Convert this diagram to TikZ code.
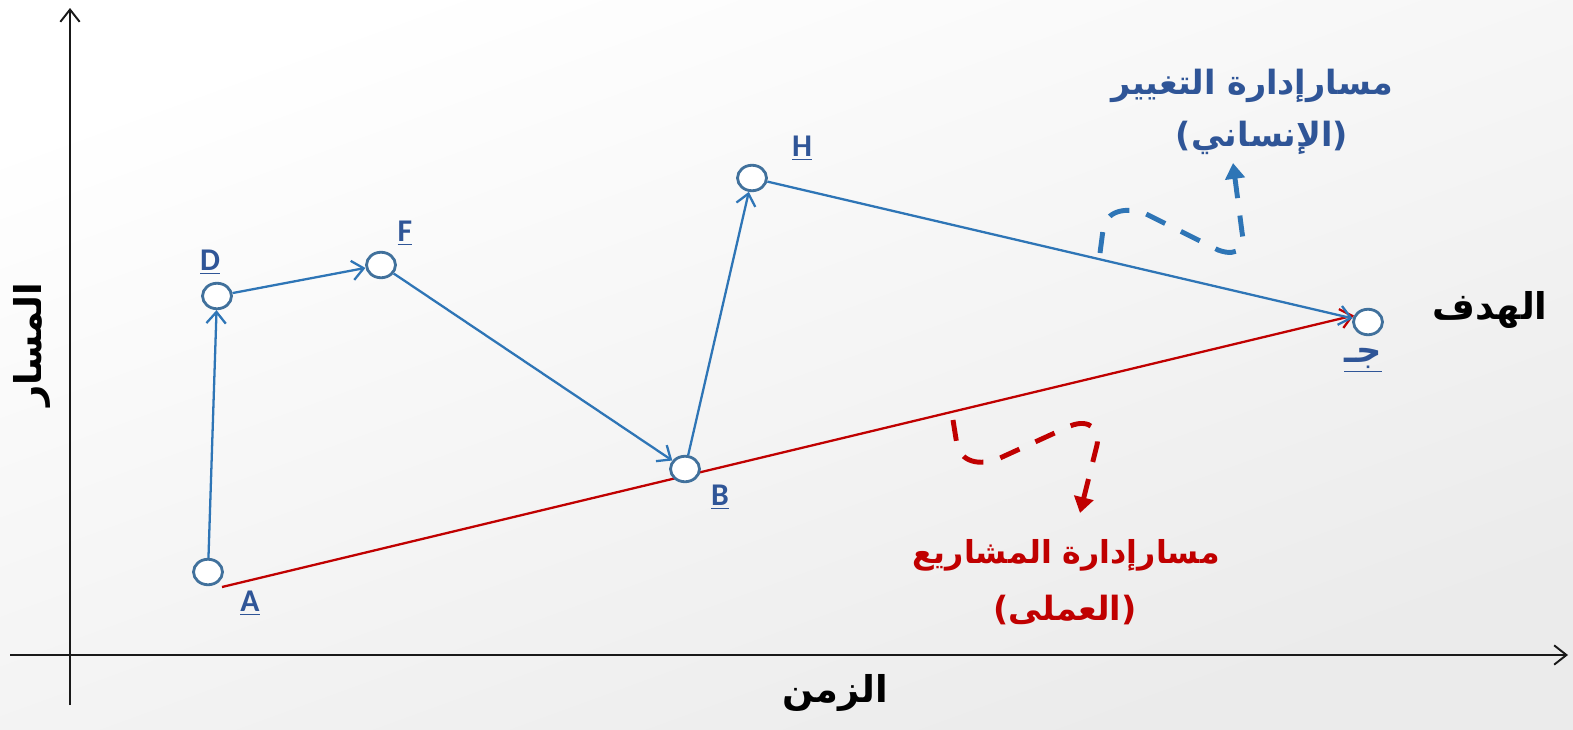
\documentclass[tikz,border=0pt]{standalone}
\usepackage{fontspec}
\setmainfont{Carlito}
\newfontfamily\arabicfont[Script=Arabic]{DejaVu Sans}
\TeXXeTstate=1
\usetikzlibrary{shapes.geometric, arrows.meta, positioning, calc}
\definecolor{pathblue}{RGB}{46, 117, 182}
\definecolor{ringblue}{RGB}{65, 113, 156}
\definecolor{labelblue}{RGB}{47, 85, 151}
\definecolor{pathred}{RGB}{192, 0, 0}
\definecolor{axisblack}{RGB}{25, 25, 25}
\pgfdeclarelayer{canvas}
\pgfdeclarelayer{links}
\pgfsetlayers{canvas,links,main}

\begin{document}
\begin{tikzpicture}[
    x=0.02cm, y=-0.02cm,
    stop/.style={ellipse, draw=ringblue, line width=1.6pt, fill=white,
                 minimum width=0.58cm, minimum height=0.51cm, inner sep=0pt},
    tag/.style={font=\fontsize{18}{20}\selectfont\bfseries, text=labelblue},
    arabic/.style={font=\arabicfont\bfseries\fontsize{#1}{#1}\selectfont, align=center},
    axis/.style={line width=1.1pt, draw=axisblack, -{Straight Barb[length=7pt, width=11pt]}},
    move/.style={line width=1.3pt, draw=#1, -{Straight Barb[length=6.5pt, width=11pt]}},
    hint/.style={line width=2.8pt, draw=#1, dash pattern=on 12pt off 10pt,
                 -{Triangle[length=9pt, width=11pt]}}
]
    % background
    \begin{pgfonlayer}{canvas}
        \shade[top color=white, bottom color=black!8, shading angle=20]
            (0,0) rectangle (1573,730);
    \end{pgfonlayer}
    \useasboundingbox (0,0) rectangle (1573,730);

    % axes
    \coordinate (xstart) at (10,655);
    \coordinate (xend) at (1568,655);
    \coordinate (ystart) at (70,705);
    \coordinate (yend) at (70,8);
    \draw[axis] (xstart) -- (xend);
    \draw[axis] (ystart) -- (yend);
    \node[arabic=21pt] (time) at (835,693) {\beginR الزمن\endR};
    \node[arabic=21pt, rotate=90] (route) at (32,345) {\beginR المسار\endR};

    % stations
    \node[stop] (A) at (208,572) {};
    \node[stop] (D) at (217,296) {};
    \node[stop] (F) at (381,265) {};
    \node[stop] (B) at (685,469) {};
    \node[stop] (H) at (752,178) {};
    \node[stop] (C) at (1368,322) {};

    \node[tag] (lA) at (250,603) {\underline{A}};
    \node[tag] (lD) at (210,262) {\underline{D}};
    \node[tag] (lF) at (405,233) {\underline{F}};
    \node[tag] (lB) at (720,497) {\underline{B}};
    \node[tag] (lH) at (802,148) {\underline{H}};
    \node[tag, font=\arabicfont\bfseries\fontsize{20}{22}\selectfont] (lC) at (1363,360) {\underline{\beginR جـ\endR}};

    \node[arabic=21pt] (goal) at (1490,310) {\beginR الهدف\endR};

    % paths
    \coordinate (redstart) at (222,587);
    \begin{pgfonlayer}{links}
        \draw[move=pathred] (redstart) -- (C.155);
        \draw[move=pathblue] (A) -- (D);
        \draw[move=pathblue] (D) -- (F);
        \draw[move=pathblue] (F) -- (B);
        \draw[move=pathblue] (B) -- (H);
        \draw[move=pathblue] (H) -- (C);
    \end{pgfonlayer}

    % captions
    \node[arabic=19pt, text=labelblue] (human) at (1252,86) {\beginR مسارإدارة التغيير\endR};
    \node[arabic=19pt, text=labelblue] (humanb) at (1262,138) {\beginR (الإنساني)\endR};
    \node[arabic=18pt, text=pathred] (work) at (1066,555) {\beginR مسارإدارة المشاريع\endR};
    \node[arabic=19pt, text=pathred] (workb) at (1065,610) {\beginR (العملى)\endR};

    \coordinate (hstart) at (1100,253);
    \coordinate (hend) at (1233,163);
    \draw[hint=pathblue] (hstart) -- (1103,230) .. controls (1106,210) and (1125,208) .. (1142,212)
        -- (1218,250) .. controls (1240,258) and (1245,245) .. (1242,232) -- (hend);
    \coordinate (wstart) at (953,420);
    \coordinate (wend) at (1080,513);
    \draw[hint=pathred] (wstart) -- (957,445) .. controls (962,465) and (985,465) .. (1000,458)
        -- (1070,426) .. controls (1090,418) and (1100,430) .. (1097,445) -- (wend);
\end{tikzpicture}
\end{document}
